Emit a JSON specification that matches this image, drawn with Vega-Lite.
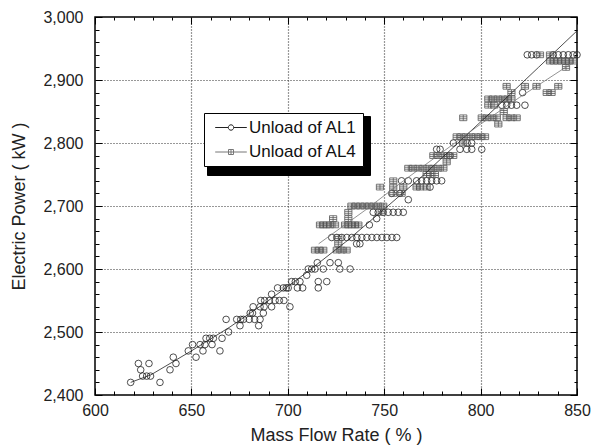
{
  "$schema": "https://vega.github.io/schema/vega-lite/v6.json",
  "width": 482,
  "height": 378,
  "autosize": {"type": "none"},
  "padding": {"left": 95, "top": 17, "right": 22, "bottom": 51},
  "background": "white",
  "config": {
    "view": {"stroke": "black", "strokeWidth": 1.5},
    "font": "Liberation Sans",
    "axis": {"labelFont": "Liberation Sans", "titleFont": "Liberation Sans", "labelColor": "#222", "titleColor": "#222", "tickColor": "black", "domain": false, "titleFontWeight": "normal"}
  },
  "datasets": {
    "pts": [
      {"s":"Unload of AL1","x":618.5,"y":2420},{"s":"Unload of AL1","x":622.5,"y":2450},{"s":"Unload of AL1","x":623.7,"y":2440},{"s":"Unload of AL1","x":624.7,"y":2430},{"s":"Unload of AL1","x":626.8,"y":2430},{"s":"Unload of AL1","x":628.8,"y":2430},{"s":"Unload of AL1","x":628,"y":2450},{"s":"Unload of AL1","x":633.7,"y":2420},{"s":"Unload of AL1","x":638.9,"y":2440},{"s":"Unload of AL1","x":640.6,"y":2460},{"s":"Unload of AL1","x":642,"y":2450},{"s":"Unload of AL1","x":648.4,"y":2470},{"s":"Unload of AL1","x":650.6,"y":2480},{"s":"Unload of AL1","x":652.4,"y":2460},{"s":"Unload of AL1","x":654.5,"y":2480},{"s":"Unload of AL1","x":656,"y":2470},{"s":"Unload of AL1","x":657,"y":2480},{"s":"Unload of AL1","x":657.6,"y":2490},{"s":"Unload of AL1","x":659.5,"y":2490},{"s":"Unload of AL1","x":661.4,"y":2490},{"s":"Unload of AL1","x":660.7,"y":2480},{"s":"Unload of AL1","x":664.8,"y":2470},{"s":"Unload of AL1","x":665.9,"y":2490},{"s":"Unload of AL1","x":668,"y":2520},{"s":"Unload of AL1","x":669.3,"y":2500},{"s":"Unload of AL1","x":673.5,"y":2520},{"s":"Unload of AL1","x":675.6,"y":2520},{"s":"Unload of AL1","x":675.2,"y":2510},{"s":"Unload of AL1","x":677,"y":2520},{"s":"Unload of AL1","x":680,"y":2520},{"s":"Unload of AL1","x":680.5,"y":2530},{"s":"Unload of AL1","x":681.7,"y":2530},{"s":"Unload of AL1","x":682,"y":2540},{"s":"Unload of AL1","x":682.8,"y":2520},{"s":"Unload of AL1","x":684.9,"y":2510},{"s":"Unload of AL1","x":685.6,"y":2520},{"s":"Unload of AL1","x":685.6,"y":2540},{"s":"Unload of AL1","x":687.7,"y":2540},{"s":"Unload of AL1","x":686,"y":2550},{"s":"Unload of AL1","x":688,"y":2550},{"s":"Unload of AL1","x":687.3,"y":2530},{"s":"Unload of AL1","x":690.4,"y":2550},{"s":"Unload of AL1","x":691.6,"y":2540},{"s":"Unload of AL1","x":691.6,"y":2560},{"s":"Unload of AL1","x":693.4,"y":2550},{"s":"Unload of AL1","x":695.6,"y":2550},{"s":"Unload of AL1","x":698,"y":2550},{"s":"Unload of AL1","x":694.7,"y":2570},{"s":"Unload of AL1","x":699.2,"y":2570},{"s":"Unload of AL1","x":697.7,"y":2570},{"s":"Unload of AL1","x":700.2,"y":2570},{"s":"Unload of AL1","x":701.1,"y":2540},{"s":"Unload of AL1","x":702,"y":2580},{"s":"Unload of AL1","x":703.9,"y":2580},{"s":"Unload of AL1","x":706.3,"y":2580},{"s":"Unload of AL1","x":705,"y":2570},{"s":"Unload of AL1","x":707.7,"y":2570},{"s":"Unload of AL1","x":709.8,"y":2590},{"s":"Unload of AL1","x":710.6,"y":2600},{"s":"Unload of AL1","x":712.4,"y":2600},{"s":"Unload of AL1","x":714.1,"y":2600},{"s":"Unload of AL1","x":715.3,"y":2610},{"s":"Unload of AL1","x":715.8,"y":2580},{"s":"Unload of AL1","x":715.8,"y":2570},{"s":"Unload of AL1","x":718.4,"y":2600},{"s":"Unload of AL1","x":720.2,"y":2580},{"s":"Unload of AL1","x":721.9,"y":2610},{"s":"Unload of AL1","x":726.2,"y":2610},{"s":"Unload of AL1","x":727,"y":2600},{"s":"Unload of AL1","x":732.3,"y":2600},
      {"s":"Unload of AL1","x":722.8,"y":2650},{"s":"Unload of AL1","x":725.4,"y":2650},{"s":"Unload of AL1","x":728,"y":2650},{"s":"Unload of AL1","x":730.6,"y":2650},{"s":"Unload of AL1","x":733.2,"y":2650},{"s":"Unload of AL1","x":735.8,"y":2650},{"s":"Unload of AL1","x":738.4,"y":2650},{"s":"Unload of AL1","x":741,"y":2650},{"s":"Unload of AL1","x":743.6,"y":2650},{"s":"Unload of AL1","x":746.2,"y":2650},{"s":"Unload of AL1","x":748.8,"y":2650},{"s":"Unload of AL1","x":751.4,"y":2650},{"s":"Unload of AL1","x":754,"y":2650},{"s":"Unload of AL1","x":756.5,"y":2650},
      {"s":"Unload of AL1","x":735.7,"y":2640},{"s":"Unload of AL1","x":737.4,"y":2640},{"s":"Unload of AL1","x":742.3,"y":2670},{"s":"Unload of AL1","x":746.1,"y":2680},
      {"s":"Unload of AL1","x":744.3,"y":2690},{"s":"Unload of AL1","x":746.9,"y":2690},{"s":"Unload of AL1","x":749.5,"y":2690},{"s":"Unload of AL1","x":752.1,"y":2690},{"s":"Unload of AL1","x":754.7,"y":2690},{"s":"Unload of AL1","x":757.3,"y":2690},{"s":"Unload of AL1","x":759.9,"y":2690},
      {"s":"Unload of AL1","x":762.5,"y":2710},{"s":"Unload of AL1","x":753.9,"y":2720},{"s":"Unload of AL1","x":758.2,"y":2720},{"s":"Unload of AL1","x":759,"y":2740},{"s":"Unload of AL1","x":762.5,"y":2740},{"s":"Unload of AL1","x":766.8,"y":2740},{"s":"Unload of AL1","x":769.4,"y":2740},{"s":"Unload of AL1","x":772,"y":2740},{"s":"Unload of AL1","x":774.6,"y":2740},{"s":"Unload of AL1","x":777.2,"y":2740},{"s":"Unload of AL1","x":779.8,"y":2740},{"s":"Unload of AL1","x":773.8,"y":2730},{"s":"Unload of AL1","x":777.2,"y":2790},{"s":"Unload of AL1","x":779,"y":2790},{"s":"Unload of AL1","x":785.9,"y":2800},{"s":"Unload of AL1","x":784,"y":2780},{"s":"Unload of AL1","x":789.3,"y":2790},{"s":"Unload of AL1","x":792.8,"y":2790},{"s":"Unload of AL1","x":795.4,"y":2790},{"s":"Unload of AL1","x":795.4,"y":2800},{"s":"Unload of AL1","x":800.6,"y":2790},{"s":"Unload of AL1","x":793,"y":2800},
      {"s":"Unload of AL1","x":811,"y":2860},{"s":"Unload of AL1","x":813.5,"y":2860},{"s":"Unload of AL1","x":816,"y":2860},{"s":"Unload of AL1","x":818.7,"y":2860},{"s":"Unload of AL1","x":823,"y":2860},{"s":"Unload of AL1","x":821.8,"y":2880},
      {"s":"Unload of AL1","x":824.2,"y":2940},{"s":"Unload of AL1","x":826.5,"y":2940},{"s":"Unload of AL1","x":829,"y":2940},{"s":"Unload of AL1","x":837.7,"y":2940},{"s":"Unload of AL1","x":840.3,"y":2940},{"s":"Unload of AL1","x":842.9,"y":2940},{"s":"Unload of AL1","x":845.5,"y":2940},{"s":"Unload of AL1","x":848,"y":2940},{"s":"Unload of AL1","x":850,"y":2940},
      {"s":"Unload of AL4","x":714.1,"y":2630},{"s":"Unload of AL4","x":716.3,"y":2630},{"s":"Unload of AL4","x":718.4,"y":2630},{"s":"Unload of AL4","x":725.4,"y":2630},{"s":"Unload of AL4","x":727.9,"y":2630},{"s":"Unload of AL4","x":730.5,"y":2630},{"s":"Unload of AL4","x":726.2,"y":2650},{"s":"Unload of AL4","x":726.2,"y":2640},
      {"s":"Unload of AL4","x":716.7,"y":2670},{"s":"Unload of AL4","x":718.4,"y":2670},{"s":"Unload of AL4","x":720.2,"y":2670},{"s":"Unload of AL4","x":721.9,"y":2670},{"s":"Unload of AL4","x":724.5,"y":2670},{"s":"Unload of AL4","x":729.7,"y":2670},{"s":"Unload of AL4","x":731.4,"y":2670},{"s":"Unload of AL4","x":733.1,"y":2670},{"s":"Unload of AL4","x":734.9,"y":2670},{"s":"Unload of AL4","x":736.6,"y":2670},{"s":"Unload of AL4","x":723.5,"y":2680},{"s":"Unload of AL4","x":731.4,"y":2680},{"s":"Unload of AL4","x":731.4,"y":2690},
      {"s":"Unload of AL4","x":733,"y":2700},{"s":"Unload of AL4","x":735.3,"y":2700},{"s":"Unload of AL4","x":737.6,"y":2700},{"s":"Unload of AL4","x":739.9,"y":2700},{"s":"Unload of AL4","x":742.2,"y":2700},{"s":"Unload of AL4","x":744.5,"y":2700},{"s":"Unload of AL4","x":746.8,"y":2700},{"s":"Unload of AL4","x":749.5,"y":2700},
      {"s":"Unload of AL4","x":748.7,"y":2690},{"s":"Unload of AL4","x":754.7,"y":2740},{"s":"Unload of AL4","x":754.7,"y":2730},{"s":"Unload of AL4","x":754.7,"y":2720},{"s":"Unload of AL4","x":747.8,"y":2730},{"s":"Unload of AL4","x":759,"y":2720},{"s":"Unload of AL4","x":759.9,"y":2730},{"s":"Unload of AL4","x":766.8,"y":2730},{"s":"Unload of AL4","x":768.6,"y":2730},{"s":"Unload of AL4","x":772,"y":2730},
      {"s":"Unload of AL4","x":762.5,"y":2760},{"s":"Unload of AL4","x":765,"y":2760},{"s":"Unload of AL4","x":767.7,"y":2760},{"s":"Unload of AL4","x":770.3,"y":2760},{"s":"Unload of AL4","x":773,"y":2760},{"s":"Unload of AL4","x":775.5,"y":2760},{"s":"Unload of AL4","x":778,"y":2760},{"s":"Unload of AL4","x":780.7,"y":2760},
      {"s":"Unload of AL4","x":772,"y":2750},{"s":"Unload of AL4","x":773.8,"y":2750},{"s":"Unload of AL4","x":776.3,"y":2750},
      {"s":"Unload of AL4","x":775.5,"y":2780},{"s":"Unload of AL4","x":778,"y":2780},{"s":"Unload of AL4","x":780.7,"y":2780},{"s":"Unload of AL4","x":783.1,"y":2780},{"s":"Unload of AL4","x":785.8,"y":2780},{"s":"Unload of AL4","x":782.4,"y":2770},
      {"s":"Unload of AL4","x":787.6,"y":2810},{"s":"Unload of AL4","x":790,"y":2810},{"s":"Unload of AL4","x":792.5,"y":2810},{"s":"Unload of AL4","x":795,"y":2810},{"s":"Unload of AL4","x":797.5,"y":2810},{"s":"Unload of AL4","x":800,"y":2810},{"s":"Unload of AL4","x":802.3,"y":2810},
      {"s":"Unload of AL4","x":790.9,"y":2800},{"s":"Unload of AL4","x":791,"y":2840},
      {"s":"Unload of AL4","x":800.6,"y":2840},{"s":"Unload of AL4","x":803.2,"y":2840},{"s":"Unload of AL4","x":805.8,"y":2840},{"s":"Unload of AL4","x":808.4,"y":2840},{"s":"Unload of AL4","x":813.5,"y":2840},{"s":"Unload of AL4","x":816,"y":2840},{"s":"Unload of AL4","x":818.7,"y":2840},{"s":"Unload of AL4","x":809.2,"y":2830},
      {"s":"Unload of AL4","x":804,"y":2870},{"s":"Unload of AL4","x":806.5,"y":2870},{"s":"Unload of AL4","x":809,"y":2870},{"s":"Unload of AL4","x":811.5,"y":2870},{"s":"Unload of AL4","x":814,"y":2870},{"s":"Unload of AL4","x":816,"y":2870},
      {"s":"Unload of AL4","x":804,"y":2860},{"s":"Unload of AL4","x":807,"y":2860},{"s":"Unload of AL4","x":812,"y":2850},{"s":"Unload of AL4","x":816,"y":2880},{"s":"Unload of AL4","x":813.5,"y":2890},{"s":"Unload of AL4","x":823,"y":2890},{"s":"Unload of AL4","x":829,"y":2890},{"s":"Unload of AL4","x":834.3,"y":2880},{"s":"Unload of AL4","x":836.8,"y":2880},{"s":"Unload of AL4","x":840.3,"y":2890},{"s":"Unload of AL4","x":830.8,"y":2940},{"s":"Unload of AL4","x":836,"y":2940},
      {"s":"Unload of AL4","x":836,"y":2930},{"s":"Unload of AL4","x":838,"y":2930},{"s":"Unload of AL4","x":840,"y":2930},{"s":"Unload of AL4","x":842,"y":2930},{"s":"Unload of AL4","x":844,"y":2930},{"s":"Unload of AL4","x":846,"y":2930},{"s":"Unload of AL4","x":848,"y":2930},{"s":"Unload of AL4","x":844.3,"y":2920}
    ],
    "fit": [
      {"s":"Unload of AL1","x":618.5,"y":2420},{"s":"Unload of AL1","x":629,"y":2432},{"s":"Unload of AL1","x":650,"y":2470},{"s":"Unload of AL1","x":670,"y":2508},{"s":"Unload of AL1","x":690,"y":2550},{"s":"Unload of AL1","x":710,"y":2595},{"s":"Unload of AL1","x":730,"y":2643},{"s":"Unload of AL1","x":750,"y":2695},{"s":"Unload of AL1","x":770,"y":2748},{"s":"Unload of AL1","x":790,"y":2805},{"s":"Unload of AL1","x":810,"y":2862},{"s":"Unload of AL1","x":830,"y":2920},{"s":"Unload of AL1","x":850,"y":2978},
      {"s":"Unload of AL4","x":716,"y":2640},{"s":"Unload of AL4","x":740,"y":2693},{"s":"Unload of AL4","x":760,"y":2740},{"s":"Unload of AL4","x":780,"y":2785},{"s":"Unload of AL4","x":800,"y":2830},{"s":"Unload of AL4","x":820,"y":2872},{"s":"Unload of AL4","x":848,"y":2928}
    ]
  },
  "layer": [
    {
      "data": {"name": "pts"},
      "mark": {"type": "point", "filled": false, "strokeWidth": 0.8},
      "encoding": {
        "x": {"field": "x", "type": "quantitative", "scale": {"domain": [600, 850], "nice": false, "zero": false},
          "axis": {"orient": "bottom", "values": [600,610,620,630,640,650,660,670,680,690,700,710,720,730,740,750,760,770,780,790,800,810,820,830,840,850],
            "title": "Mass Flow Rate ( % )", "titleFontSize": 18, "titlePadding": 8,
            "labelFontSize": 16, "labelPadding": 14, "labelFlush": false,
            "labelExpr": "datum.value % 50 === 0 ? datum.label : ''",
            "tickSize": {"condition": {"test": "datum.value % 50 === 0", "value": -7}, "value": -4},
            "tickWidth": 1,
            "grid": true, "gridColor": "#333", "gridDash": [1, 2], "gridWidth": 1.2,
            "gridOpacity": {"condition": {"test": "datum.value % 50 === 0 && datum.value > 600 && datum.value < 850", "value": 1}, "value": 0}}},
        "y": {"field": "y", "type": "quantitative", "scale": {"domain": [2400, 3000], "nice": false, "zero": false},
          "axis": {"orient": "left", "values": [2400,2420,2440,2460,2480,2500,2520,2540,2560,2580,2600,2620,2640,2660,2680,2700,2720,2740,2760,2780,2800,2820,2840,2860,2880,2900,2920,2940,2960,2980,3000],
            "title": "Electric Power ( kW )", "titleFontSize": 18, "titlePadding": 14,
            "labelFontSize": 16, "labelPadding": 19, "labelFlush": false,
            "labelExpr": "datum.value % 100 === 0 ? format(datum.value, ',') : ''",
            "tickSize": {"condition": {"test": "datum.value % 100 === 0", "value": -7}, "value": -4},
            "tickWidth": 1,
            "grid": true, "gridColor": "#333", "gridDash": [1, 2], "gridWidth": 1.2,
            "gridOpacity": {"condition": {"test": "datum.value % 100 === 0 && datum.value > 2400 && datum.value < 3000", "value": 1}, "value": 0}}},
        "shape": {"field": "s", "type": "nominal", "scale": {"range": ["circle", "M-1,-0.8H1V0.8H-1ZM0,-0.8V0.8M-1,-0.27H1M-1,0.27H1"]}, "legend": null},
        "size": {"field": "s", "type": "ordinal", "scale": {"range": [44, 52]}, "legend": null},
        "stroke": {"field": "s", "type": "nominal", "scale": {"range": ["#222", "#555"]}, "legend": null},
        "opacity": {"field": "s", "type": "ordinal", "scale": {"domain": ["Unload of AL4", "Unload of AL1"], "range": [1, 1]},
          "legend": {"title": null, "orient": "none", "legendX": 112, "legendY": 99, "padding": 6,
            "strokeColor": "black", "fillColor": "black",
            "labelFont": "Liberation Sans", "labelFontSize": 17, "labelColor": "black", "labelLimit": 300,
            "labelExpr": "''",
            "symbolSize": 100, "symbolStrokeWidth": 1, "labelOffset": 0, "rowPadding": 6.5,
            "symbolType": "M-1.1,-1.7H28.1V1.7H-1.1Z",
            "symbolStrokeColor": "black", "symbolFillColor": "black"}}
      }
    },
    {
      "data": {"name": "fit"},
      "mark": {"type": "line", "strokeWidth": 0.8},
      "encoding": {
        "x": {"field": "x", "type": "quantitative",
          "axis": {"orient": "top", "values": [600,610,620,630,640,650,660,670,680,690,700,710,720,730,740,750,760,770,780,790,800,810,820,830,840,850],
            "title": null, "labels": false, "grid": false, "tickWidth": 1,
            "tickSize": {"condition": {"test": "datum.value % 50 === 0", "value": -7}, "value": -3}}},
        "y": {"field": "y", "type": "quantitative",
          "axis": {"orient": "right", "values": [2400,2420,2440,2460,2480,2500,2520,2540,2560,2580,2600,2620,2640,2660,2680,2700,2720,2740,2760,2780,2800,2820,2840,2860,2880,2900,2920,2940,2960,2980,3000],
            "title": null, "labels": false, "grid": false, "tickWidth": 1,
            "tickSize": {"condition": {"test": "datum.value % 100 === 0", "value": -7}, "value": -3}}},
        "color": {"field": "s", "type": "nominal", "scale": {"domain": ["Unload of AL1", "Unload of AL4"], "range": ["#222", "#777"]},
          "legend": {"title": null, "orient": "none", "legendX": 109, "legendY": 96, "padding": 6,
            "strokeColor": "black", "fillColor": "white",
            "labelFont": "Liberation Sans", "labelFontSize": 17, "labelColor": "#111", "labelLimit": 300,
            "symbolSize": 100, "symbolStrokeWidth": 1, "labelOffset": 22, "rowPadding": 6.5,
            "encode": {
              "symbols": {"update": {
                "shape": {"signal": "datum.value === 'Unload of AL1' ? 'M-0.66,0H1.96M3.04,0H5.66M1.96,0A0.54,0.54,0,1,1,3.04,0A0.54,0.54,0,1,1,1.96,0' : 'M-0.66,0H5.66M2,-0.5H3V0.5H2ZM2.5,-0.5V0.5'"},
                "fill": {"value": "transparent"}}}}}}
      }
    }
  ],
  "resolve": {"axis": {"x": "independent", "y": "independent"}}
}
